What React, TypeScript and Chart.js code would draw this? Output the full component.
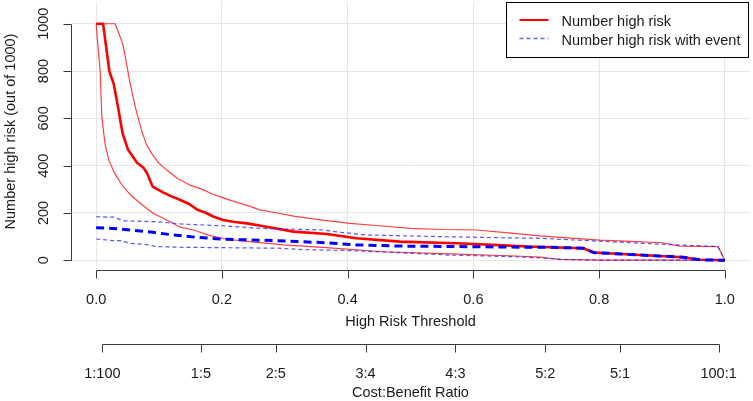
import React, { useEffect, useRef } from "react";
import { Chart, registerables } from "chart.js";

Chart.register(...registerables);

// ---- Data ----
const thresholdTicks = [0, 0.2, 0.4, 0.6, 0.8, 1.0];
const thresholdTickLabels = ["0.0", "0.2", "0.4", "0.6", "0.8", "1.0"];
const countTicks = [0, 200, 400, 600, 800, 1000];
const costBenefitLabels = ["1:100", "1:5", "2:5", "3:4", "4:3", "5:2", "5:1", "100:1"];
const costBenefitCost = [1, 1, 2, 3, 4, 5, 5, 100];
const costBenefitBenefit = [100, 5, 5, 4, 3, 2, 1, 1];

const highRiskT = [0, 0.011, 0.021, 0.028, 0.035, 0.042, 0.051, 0.058, 0.065, 0.075, 0.081, 0.09, 0.107, 0.12, 0.134, 0.148, 0.16, 0.175, 0.187, 0.202, 0.22, 0.24, 0.271, 0.314, 0.367, 0.414, 0.483, 0.573, 0.632, 0.685, 0.722, 0.775, 0.791, 0.865, 0.934, 0.96, 1.0];
const highRiskV = [1000, 1000, 800, 745, 645, 537, 466, 440, 412, 392, 368, 311, 286, 270, 255, 238, 215, 200, 184, 170, 162, 156, 142, 121, 111, 93, 79, 72, 65, 58, 55, 51, 33, 22, 13, 2, 0];

const highRiskUpperT = [0, 0.03, 0.036, 0.042, 0.045, 0.054, 0.063, 0.072, 0.08, 0.088, 0.1, 0.112, 0.13, 0.149, 0.165, 0.185, 0.202, 0.22, 0.245, 0.26, 0.282, 0.314, 0.36, 0.404, 0.45, 0.499, 0.55, 0.605, 0.66, 0.706, 0.75, 0.801, 0.85, 0.901, 0.928, 0.989, 1.0];
const highRiskUpperV = [1000, 1000, 960, 917, 880, 748, 640, 551, 490, 452, 410, 382, 345, 318, 304, 280, 264, 248, 228, 213, 203, 187, 170, 156, 146, 135, 130, 128, 115, 103, 95, 85, 80, 74, 60, 58, 0];

const highRiskLowerT = [0, 0.003, 0.0064, 0.009, 0.014, 0.02, 0.03, 0.043, 0.055, 0.07, 0.09, 0.112, 0.134, 0.155, 0.18, 0.207, 0.245, 0.298, 0.377, 0.457, 0.563, 0.668, 0.706, 0.722, 0.738, 0.8, 0.9, 1.0];
const highRiskLowerV = [1000, 900, 800, 607, 494, 424, 365, 311, 275, 241, 200, 170, 140, 128, 105, 89, 79, 65, 51, 36, 27, 18, 13, 8, 4, 1, 1, 0];

const eventT = [0, 0.02, 0.054, 0.09, 0.123, 0.16, 0.202, 0.245, 0.282, 0.32, 0.367, 0.414, 0.483, 0.573, 0.685, 0.722, 0.775, 0.791, 0.865, 0.934, 0.96, 1.0];
const eventV = [138, 136, 128, 118, 107, 97, 89, 86, 83, 79, 74, 65, 60, 58, 55, 55, 51, 33, 22, 13, 2, 0];

const eventUpperT = [0, 0.028, 0.043, 0.096, 0.138, 0.207, 0.26, 0.361, 0.39, 0.43, 0.55, 0.65, 0.706, 0.812, 0.923, 0.989, 1.0];
const eventUpperV = [184, 182, 167, 163, 153, 145, 135, 128, 118, 107, 100, 95, 93, 79, 65, 58, 0];

const eventLowerT = [0, 0.028, 0.038, 0.054, 0.081, 0.096, 0.134, 0.29, 0.33, 0.404, 0.483, 0.563, 0.668, 0.722, 0.738, 0.8, 0.9, 1.0];
const eventLowerV = [90, 83, 83, 72, 66, 58, 55, 51, 45, 41, 32, 22, 15, 8, 4, 1, 1, 0];

const legendLabels = ["Number high risk", "Number high risk with event"];
const xTitle = "High Risk Threshold";
const x2Title = "Cost:Benefit Ratio";
const yTitle = "Number high risk (out of 1000)";

const FONT = '14.5px "Liberation Sans", Arial, sans-serif';
const TEXT = "#1a1a1a";
const AXIS = "#3a3a3a";

const pts = (xs: number[], ys: number[]) => xs.map((x, i) => ({ x, y: ys[i] }));

const rAxesPlugin = {
  id: "rAxes",
  afterDraw(chart: any) {
    const ctx = chart.ctx as CanvasRenderingContext2D;
    const xs = chart.scales.x;
    const ys = chart.scales.y;
    const area = chart.chartArea;
    ctx.save();
    ctx.lineWidth = 1;
    ctx.strokeStyle = AXIS;
    ctx.fillStyle = TEXT;
    ctx.font = FONT;

    // Y axis
    const ax = Math.round(area.left) + 0.5;
    const y0 = ys.getPixelForValue(countTicks[0]);
    const y1 = ys.getPixelForValue(countTicks[countTicks.length - 1]);
    ctx.beginPath();
    ctx.moveTo(ax, Math.round(y0) + 0.5);
    ctx.lineTo(ax, Math.round(y1) + 0.5);
    countTicks.forEach((v) => {
      const p = Math.round(ys.getPixelForValue(v)) + 0.5;
      ctx.moveTo(ax, p);
      ctx.lineTo(ax - 8, p);
    });
    ctx.stroke();
    ctx.textAlign = "center";
    ctx.textBaseline = "middle";
    countTicks.forEach((v) => {
      const p = ys.getPixelForValue(v);
      ctx.save();
      ctx.translate(44, p);
      ctx.rotate(-Math.PI / 2);
      ctx.fillText(String(v), 0, 0);
      ctx.restore();
    });
    ctx.save();
    ctx.translate(11, 131.5);
    ctx.rotate(-Math.PI / 2);
    ctx.fillText(yTitle, 0, 0);
    ctx.restore();

    // X axis (threshold)
    const ly = 270.5;
    const xa = xs.getPixelForValue(thresholdTicks[0]);
    const xb = xs.getPixelForValue(thresholdTicks[thresholdTicks.length - 1]);
    ctx.beginPath();
    ctx.moveTo(Math.round(xa) + 0.5, ly);
    ctx.lineTo(Math.round(xb) + 0.5, ly);
    thresholdTicks.forEach((v) => {
      const p = Math.round(xs.getPixelForValue(v)) + 0.5;
      ctx.moveTo(p, ly);
      ctx.lineTo(p, ly + 8);
    });
    ctx.stroke();
    thresholdTicks.forEach((v, i) => {
      ctx.fillText(thresholdTickLabels[i], xs.getPixelForValue(v), 299.5);
    });
    const cx = (area.left + area.right) / 2;
    ctx.fillText(xTitle, cx, 322);

    // Second axis (cost:benefit)
    const l2 = 344.5;
    const cbT = costBenefitCost.map((c, i) => c / (c + costBenefitBenefit[i]));
    const c0 = xs.getPixelForValue(cbT[0]);
    const c1 = xs.getPixelForValue(cbT[cbT.length - 1]);
    ctx.beginPath();
    ctx.moveTo(Math.round(c0) + 0.5, l2);
    ctx.lineTo(Math.round(c1) + 0.5, l2);
    cbT.forEach((t) => {
      const p = Math.round(xs.getPixelForValue(t)) + 0.5;
      ctx.moveTo(p, l2);
      ctx.lineTo(p, l2 + 8);
    });
    ctx.stroke();
    cbT.forEach((t, i) => {
      ctx.fillText(costBenefitLabels[i], xs.getPixelForValue(t), 373.5);
    });
    ctx.fillText(x2Title, cx, 393);

    // Legend box (top right of plot region)
    const bx1 = Math.round(area.right) - 1.5;
    const bx0 = bx1 - 242;
    const by0 = Math.round(area.top) + 0.5;
    const by1 = by0 + 55;
    ctx.fillStyle = "#ffffff";
    ctx.fillRect(bx0, by0, bx1 - bx0, by1 - by0);
    ctx.strokeStyle = "#000000";
    ctx.lineWidth = 1;
    ctx.strokeRect(bx0, by0, bx1 - bx0, by1 - by0);

    ctx.strokeStyle = "#ff0000";
    ctx.lineWidth = 2;
    ctx.setLineDash([]);
    ctx.beginPath();
    ctx.moveTo(bx0 + 13, by0 + 17.5);
    ctx.lineTo(bx0 + 42, by0 + 17.5);
    ctx.stroke();
    ctx.strokeStyle = "rgba(60,60,255,0.8)";
    ctx.lineWidth = 1.3;
    ctx.setLineDash([4, 3]);
    ctx.beginPath();
    ctx.moveTo(bx0 + 13, by0 + 36);
    ctx.lineTo(bx0 + 42, by0 + 36);
    ctx.stroke();
    ctx.setLineDash([]);

    ctx.fillStyle = TEXT;
    ctx.textAlign = "left";
    ctx.fillText(legendLabels[0], bx0 + 55, by0 + 19);
    ctx.fillText(legendLabels[1], bx0 + 55, by0 + 38);
    ctx.restore();
  },
};

export default function App() {
  const ref = useRef<HTMLCanvasElement | null>(null);

  useEffect(() => {
    if (!ref.current) return;
    const thinRed = "rgba(255,0,0,0.75)";
    const thinBlue = "rgba(30,30,255,0.75)";
    const chart = new Chart(ref.current, {
      type: "line",
      data: {
        datasets: [
          { label: "event upper", data: pts(eventUpperT, eventUpperV), borderColor: thinBlue, borderWidth: 1.2, borderDash: [4, 3] },
          { label: "event lower", data: pts(eventLowerT, eventLowerV), borderColor: thinBlue, borderWidth: 1.2, borderDash: [4, 3] },
          { label: legendLabels[1], data: pts(eventT, eventV), borderColor: "#0000ff", borderWidth: 3, borderDash: [8, 5] },
          { label: "high risk upper", data: pts(highRiskUpperT, highRiskUpperV), borderColor: thinRed, borderWidth: 1.2 },
          { label: "high risk lower", data: pts(highRiskLowerT, highRiskLowerV), borderColor: thinRed, borderWidth: 1.2 },
          { label: legendLabels[0], data: pts(highRiskT, highRiskV), borderColor: "#ff0000", borderWidth: 2.6 },
        ].map((d) => ({ ...d, pointRadius: 0, tension: 0, fill: false, borderJoinStyle: "round" as const })),
      },
      options: {
        animation: false,
        responsive: false,
        maintainAspectRatio: false,
        devicePixelRatio: 1,
        layout: { padding: { left: 71, right: 3, top: 1.5, bottom: 131.5 } },
        plugins: { legend: { display: false }, tooltip: { enabled: false } },
        scales: {
          x: {
            type: "linear",
            min: -0.04,
            max: 1.04,
            afterBuildTicks: (s: any) => {
              s.ticks = thresholdTicks.map((v) => ({ value: v }));
            },
            ticks: { display: false },
            grid: { color: "#e6e6e6", lineWidth: 1, drawTicks: false },
            border: { display: false },
          },
          y: {
            type: "linear",
            min: -39,
            max: 1094,
            afterBuildTicks: (s: any) => {
              s.ticks = countTicks.map((v) => ({ value: v }));
            },
            ticks: { display: false },
            grid: { color: "#e6e6e6", lineWidth: 1, drawTicks: false },
            border: { display: false },
          },
        },
      },
      plugins: [rAxesPlugin],
    } as any);
    return () => chart.destroy();
  }, []);

  return (
    <div style={{ position: "fixed", left: 0, top: 0, width: 753, height: 401, background: "#ffffff" }}>
      <canvas ref={ref} width={753} height={401} style={{ display: "block", width: 753, height: 401 }} />
    </div>
  );
}
